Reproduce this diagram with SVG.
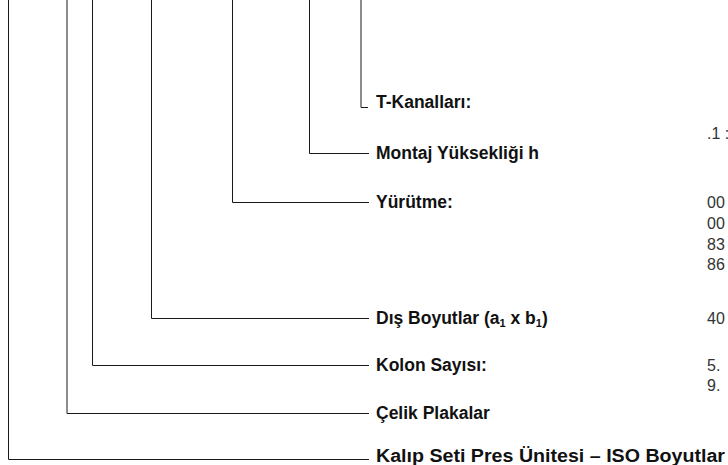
<svg xmlns="http://www.w3.org/2000/svg" width="728" height="465" viewBox="0 0 728 465">
<style>
.c{fill:none;stroke:#1a1a1a;stroke-width:1}
.l{font-family:"Liberation Sans",Arial,sans-serif;font-weight:bold;font-size:17.5px;fill:#111}
.v{font-family:"Liberation Sans",Arial,sans-serif;font-size:16px;fill:#333}
.s{font-size:11px}
</style>
<rect width="728" height="465" fill="#fff"/>
<g id="connectors">
<path class="c" d="M8.5,0 V459.5 H369"/>
<path class="c" d="M67,0 V413.5 H369"/>
<path class="c" d="M92.5,0 V365.5 H369"/>
<path class="c" d="M151.5,0 V318.5 H369"/>
<path class="c" d="M232.5,0 V202.5 H369"/>
<path class="c" d="M309.5,0 V153.5 H369"/>
<path class="c" d="M361,0 V107.5 H368"/>
</g>
<g id="t-kanallari"><text class="l" x="376" y="108">T-Kanalları:</text><text class="v" x="707" y="139">.1 :</text></g>
<g id="montaj"><text class="l" x="376" y="159">Montaj Yüksekliği h</text></g>
<g id="yurutme"><text class="l" x="376" y="208">Yürütme:</text>
<text class="v" x="707" y="208">00</text><text class="v" x="707" y="229">00</text><text class="v" x="707" y="250">83</text><text class="v" x="707" y="270">86</text></g>
<g id="dis-boyutlar"><text class="l" x="376" y="324">Dış Boyutlar (a<tspan class="s" dy="3">1</tspan><tspan dy="-3"> x b</tspan><tspan class="s" dy="3">1</tspan><tspan dy="-3">)</tspan></text><text class="v" x="707" y="324">40</text></g>
<g id="kolon"><text class="l" x="376" y="371">Kolon Sayısı:</text><text class="v" x="707" y="371">5.</text><text class="v" x="707" y="391">9.</text></g>
<g id="celik"><text class="l" x="376" y="419">Çelik Plakalar</text></g>
<g id="kalip"><text class="l" x="376" y="462" textLength="349" lengthAdjust="spacingAndGlyphs">Kalıp Seti Pres Ünitesi – ISO Boyutlar</text></g>
</svg>
